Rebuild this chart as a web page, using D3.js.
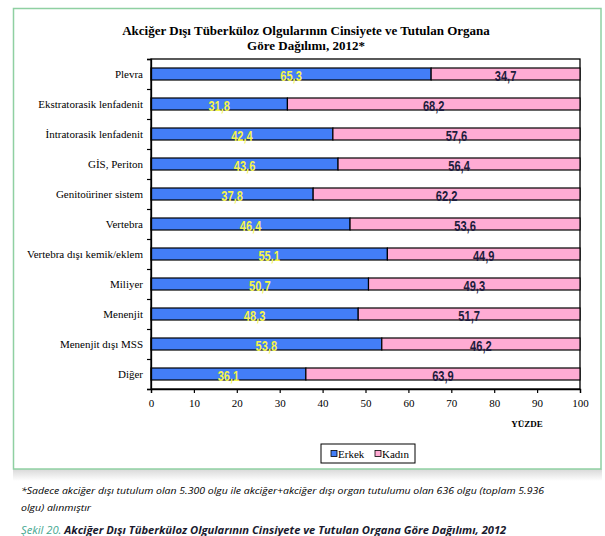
<!DOCTYPE html>
<html><head><meta charset="utf-8">
<script src="https://cdn.jsdelivr.net/npm/d3@7"></script>
<style>body{margin:0;background:#fff;}svg{display:block;}</style>
</head><body>
<svg id="c" width="605" height="536"></svg>
<script>
const categories = ["Plevra","Ekstratorasik lenfadenit","İntratorasik lenfadenit","GİS, Periton","Genitoüriner sistem","Vertebra","Vertebra dışı kemik/eklem","Miliyer","Menenjit","Menenjit dışı MSS","Diğer"];
const erkek = [65.3,31.8,42.4,43.6,37.8,46.4,55.1,50.7,48.3,53.8,36.1];
const kadin = [34.7,68.2,57.6,56.4,62.2,53.6,44.9,49.3,51.7,46.2,63.9];
const xTicks = [0,10,20,30,40,50,60,70,80,90,100];
const seriesNames = ["Erkek","Kadın"];

const svg = d3.select("#c");
const serif = "'Liberation Serif','Times New Roman',serif";
const fmt = v => v.toFixed(1).replace(".", ",");

// shadow below frame
const defs = svg.append("defs");
const g1 = defs.append("linearGradient").attr("id","sh").attr("x1",0).attr("y1",0).attr("x2",0).attr("y2",1);
g1.append("stop").attr("offset","0").attr("stop-color","#d8d8d8");
g1.append("stop").attr("offset","1").attr("stop-color","#ffffff");
svg.append("rect").attr("x",13).attr("y",469).attr("width",589).attr("height",12).attr("fill","url(#sh)");

// frame
svg.append("rect").attr("x",13.5).attr("y",8.5).attr("width",587.5).attr("height",460.5)
  .attr("fill","#fff").attr("stroke","#8fd0a2").attr("stroke-width",1.5);

// title
const title = svg.append("text").attr("x",306).attr("y",35).attr("text-anchor","middle")
  .attr("font-family",serif).attr("font-weight","bold").attr("font-size",13).attr("fill","#000");
title.append("tspan").attr("x",306).attr("dy",0).text("Akciğer Dışı Tüberküloz Olgularının Cinsiyete ve Tutulan Organa");
title.append("tspan").attr("x",306).attr("dy",15).text("Göre Dağılımı, 2012*");

const pL = 151, pR = 580, pT = 59, pB = 389;
const x = d3.scaleLinear().domain([0,100]).range([pL,pR]);
const y = d3.scaleBand().domain(categories).range([pT,pB]).paddingInner(0.6).paddingOuter(0.3);

// frame of plot
svg.append("rect").attr("x",pL).attr("y",pT).attr("width",pR-pL).attr("height",pB-pT)
  .attr("fill","none").attr("stroke","#000").attr("stroke-width",1.3);

// bars
const blue = "#437ef7", pink = "#ffabd3";
const rows = svg.append("g");
const numFont = "'Liberation Sans',Arial,sans-serif";
function numLabel(cx, by, txt, col){
  rows.append("text").attr("transform",`translate(${cx},${by}) scale(0.74,1)`)
    .attr("text-anchor","middle").attr("font-family",numFont).attr("font-size",15)
    .attr("font-weight","bold").attr("fill",col).text(txt);
}
categories.forEach((c,i)=>{
  const yy = y(c), h = y.bandwidth();
  rows.append("rect").attr("x",x(0)).attr("y",yy).attr("width",x(erkek[i])-x(0)).attr("height",h)
    .attr("fill",blue).attr("stroke","#000").attr("stroke-width",1.2);
  rows.append("rect").attr("x",x(erkek[i])).attr("y",yy).attr("width",x(100)-x(erkek[i])).attr("height",h)
    .attr("fill",pink).attr("stroke","#000").attr("stroke-width",1.2);
  numLabel(x(erkek[i]/2), yy+h+1, fmt(erkek[i]), "#f4f44c");
  numLabel(x(erkek[i]+kadin[i]/2), yy+h+1, fmt(kadin[i]), "#1c1c3c");
});

// y axis: ticks at band boundaries
const yb = d3.scaleLinear().domain([0,categories.length]).range([pT,pB]);
const yAxisG = svg.append("g").attr("transform",`translate(${pL},0)`)
  .call(d3.axisLeft(yb).ticks(categories.length).tickSize(4).tickFormat(""));
yAxisG.select(".domain").attr("stroke","#000").attr("stroke-width",1.3);
yAxisG.selectAll(".tick line").attr("stroke","#000").attr("stroke-width",1.2);

svg.append("g").selectAll("text").data(categories).join("text")
  .attr("x",143).attr("y",d=>y(d)+y.bandwidth()/2+4).attr("text-anchor","end")
  .attr("font-family",serif).attr("font-size",11).attr("fill","#000").text(d=>d);

// x axis
const xAxisG = svg.append("g").attr("transform",`translate(0,${pB})`)
  .call(d3.axisBottom(x).tickValues(xTicks).tickSize(4).tickPadding(6).tickFormat(d3.format("d")));
xAxisG.select(".domain").attr("stroke","#000").attr("stroke-width",1.3);
xAxisG.selectAll(".tick line").attr("stroke","#000").attr("stroke-width",1.2);
xAxisG.selectAll("text").attr("font-family",serif).attr("font-size",11).attr("fill","#000");

svg.append("text").attr("x",527).attr("y",427).attr("text-anchor","middle")
  .attr("font-family",serif).attr("font-weight","bold").attr("font-size",9).text("YÜZDE");

// legend
svg.append("rect").attr("x",321).attr("y",444).attr("width",94).attr("height",19)
  .attr("fill","#fff").attr("stroke","#000").attr("stroke-width",1);
const leg = [{n:seriesNames[0],c:blue,x:331},{n:seriesNames[1],c:pink,x:375}];
leg.forEach(l=>{
  svg.append("rect").attr("x",l.x).attr("y",450.5).attr("width",6).attr("height",6)
    .attr("fill",l.c).attr("stroke","#000").attr("stroke-width",0.8);
  svg.append("text").attr("x",l.x+7).attr("y",457.5).attr("font-family",serif).attr("font-size",11)
    .attr("fill","#000").text(l.n);
});

// footnotes
const sans = "'Open Sans','Noto Sans','DejaVu Sans',sans-serif";
svg.append("text").attr("x",21).attr("y",494).attr("font-family",sans).attr("font-style","italic")
  .attr("font-size",9.6).attr("fill","#000").attr("textLength",523).attr("lengthAdjust","spacingAndGlyphs")
  .text("*Sadece akciğer dışı tutulum olan 5.300 olgu ile akciğer+akciğer dışı organ tutulumu olan 636 olgu (toplam 5.936");
svg.append("text").attr("x",21).attr("y",511).attr("font-family",sans).attr("font-style","italic")
  .attr("font-size",9.6).attr("fill","#000").attr("textLength",70).attr("lengthAdjust","spacingAndGlyphs")
  .text("olgu) alınmıştır");
const cap = svg.append("text").attr("x",21).attr("y",534).attr("font-family",sans).attr("font-style","italic")
  .attr("font-weight","bold").attr("font-size",11.2).attr("fill","#1a1a2e");
cap.append("tspan").attr("fill","#45a890").attr("font-weight","normal").text("Şekil 20. ");
cap.append("tspan").text("Akciğer Dışı Tüberküloz Olgularının Cinsiyete ve Tutulan Organa Göre Dağılımı, 2012");
</script>
</body></html>
